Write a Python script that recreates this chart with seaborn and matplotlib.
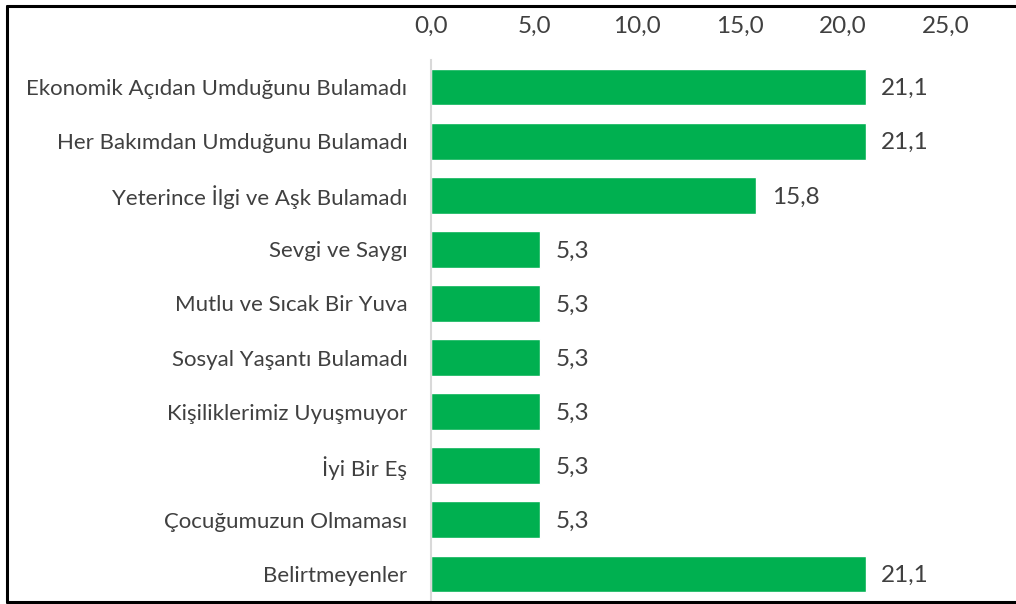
import matplotlib
matplotlib.use("Agg")
import matplotlib.pyplot as plt
import seaborn as sns
import pandas as pd
from matplotlib.lines import Line2D

categories = [
    "Ekonomik Açıdan Umduğunu Bulamadı",
    "Her Bakımdan Umduğunu Bulamadı",
    "Yeterince İlgi ve Aşk Bulamadı",
    "Sevgi ve Saygı",
    "Mutlu ve Sıcak Bir Yuva",
    "Sosyal Yaşantı Bulamadı",
    "Kişiliklerimiz Uyuşmuyor",
    "İyi Bir Eş",
    "Çocuğumuzun Olmaması",
    "Belirtmeyenler",
]
values = [21.1, 21.1, 15.8, 5.3, 5.3, 5.3, 5.3, 5.3, 5.3, 21.1]
x_ticks = [0, 5, 10, 15, 20, 25]

df = pd.DataFrame({"kategori": categories, "yuzde": values})

sns.set_theme(style="white")
plt.rcParams["font.family"] = ["Lato", "DejaVu Sans"]
text_color = "#404040"
bar_color = "#00B050"

fig = plt.figure(figsize=(10.16, 6.04), dpi=100)
ax = fig.add_axes([431 / 1016, 1 - 601 / 604, (946 - 431) / 1016, (601 - 60) / 604])

sns.barplot(data=df, x="yuzde", y="kategori", orient="h", color=bar_color,
            saturation=1, width=0.68, ax=ax)

ax.set_xlim(0, 25)
ax.xaxis.tick_top()
ax.set_xticks(x_ticks)
ax.set_xticklabels([f"{t:.1f}".replace(".", ",") for t in x_ticks],
                   fontsize=17.5, color=text_color)
ax.tick_params(axis="x", length=0, pad=17)
ax.tick_params(axis="y", length=0, pad=17, labelsize=16, labelcolor=text_color)
ax.set_xlabel("")
ax.set_ylabel("")

for s in ["top", "right", "bottom"]:
    ax.spines[s].set_visible(False)
ax.spines["left"].set_color("#D9D9D9")
ax.spines["left"].set_linewidth(1.5)

for i, v in enumerate(values):
    ax.text(v + 0.75, i + 0.03, f"{v:.1f}".replace(".", ","), va="center", ha="left",
            fontsize=17.5, color=text_color, clip_on=False)

# Outer frame around the chart area (left, top and bottom edges)
fx0, fy_top, fy_bot = 7 / 1016, 1 - 6 / 604, 1 - 602 / 604
frame_kw = dict(color="black", linewidth=2.2, transform=fig.transFigure)
fig.add_artist(Line2D([fx0, fx0], [fy_bot, fy_top], **frame_kw))
fig.add_artist(Line2D([fx0, 1.0], [fy_top, fy_top], **frame_kw))
fig.add_artist(Line2D([fx0, 1.0], [fy_bot, fy_bot], **frame_kw))

fig.savefig("out.png", dpi=100, facecolor="white")
